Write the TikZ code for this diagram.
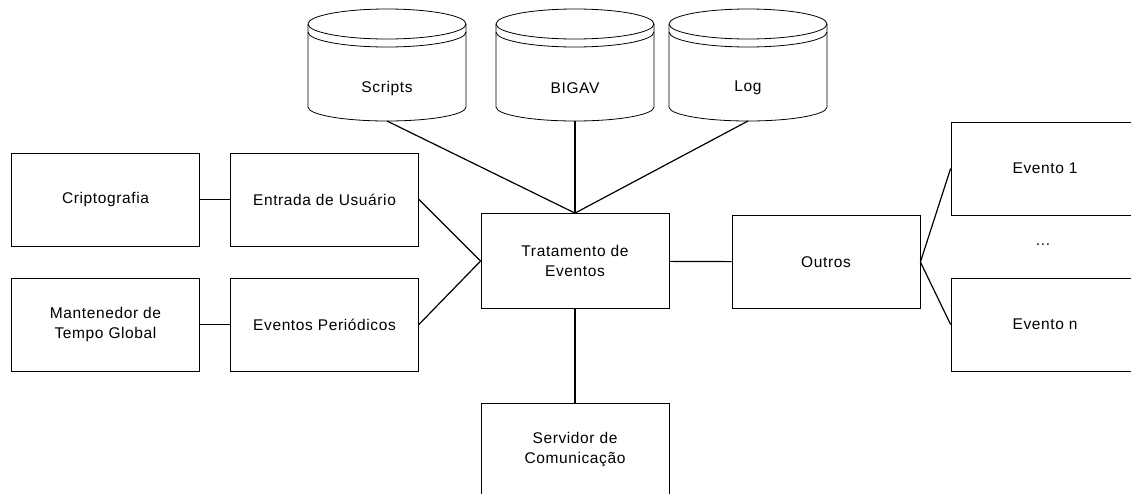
\documentclass[tikz,border=0pt]{standalone}
\usepackage{fontspec}
\newfontfamily\diafont{Liberation Sans}[LetterSpace=4]

\begin{document}
\begin{tikzpicture}[
  x=1pt, y=-1pt,
  font=\diafont\fontsize{15.5}{20}\selectfont,
  box/.style={draw, line width=0.8pt, align=center, minimum width=188pt, minimum height=93pt, inner sep=0pt},
  db/.style={line width=0.8pt},
  link/.style={line width=1.2pt}
]
\clip (0,0) rectangle (1131,493);

% ---------- Left side ----------
\node[box] (cripto)   at (105.5,199.5) {Criptografia};
\node[box] (entrada)  at (324.5,199.5) {Entrada de Usuário};
\node[box] (manten)   at (105.5,324.5) {Mantenedor de\\ Tempo Global};
\node[box] (periodic) at (324.5,324.5) {Eventos Periódicos};

% ---------- Centre ----------
\node[box, minimum height=95pt] (trat) at (575,261) {Tratamento de\\ Eventos};
\node[box] (serv) at (575,449.5) {Servidor de\\ Comunicação};

% ---------- Right side ----------
\node[box] (outros) at (826,262)  {Outros};
\node[box] (ev1)    at (1045,168.5) {Evento 1};
\node (dots)        at (1043,245) {...};
\node[box] (evn)    at (1045,324.5) {Evento n};

% ---------- Data stores ----------
\foreach \cx/\lbl/\nm in {387/Scripts/scripts, 575/BIGAV/bigav, 748/Log/log}{
  \draw[db] (\cx,24) ellipse [x radius=79, y radius=15];
  \draw[db] (\cx-79,32) arc [start angle=180, end angle=0, x radius=79, y radius=15];
  \draw[db] (\cx-79,24) -- (\cx-79,107) arc [start angle=180, end angle=0, x radius=79, y radius=14] -- (\cx+79,24);
  \node (\nm) at (\cx,88) {\lbl};
  \coordinate (\nm-base) at (\cx,121);
}

% ---------- Links ----------
\draw[link] (scripts-base) -- (trat.north);
\draw[link] (bigav-base) -- (trat.north);
\draw[link] (log-base) -- (trat.north);
\draw[link] (cripto) -- (entrada);
\draw[link] (manten) -- (periodic);
\draw[link] (entrada.east) -- (trat.west);
\draw[link] (periodic.east) -- (trat.west);
\draw[link] (trat) -- (outros);
\draw[link] (outros.east) -- (ev1.west);
\draw[link] (outros.east) -- (evn.west);
\draw[link] (trat) -- (serv);
\end{tikzpicture}
\end{document}
